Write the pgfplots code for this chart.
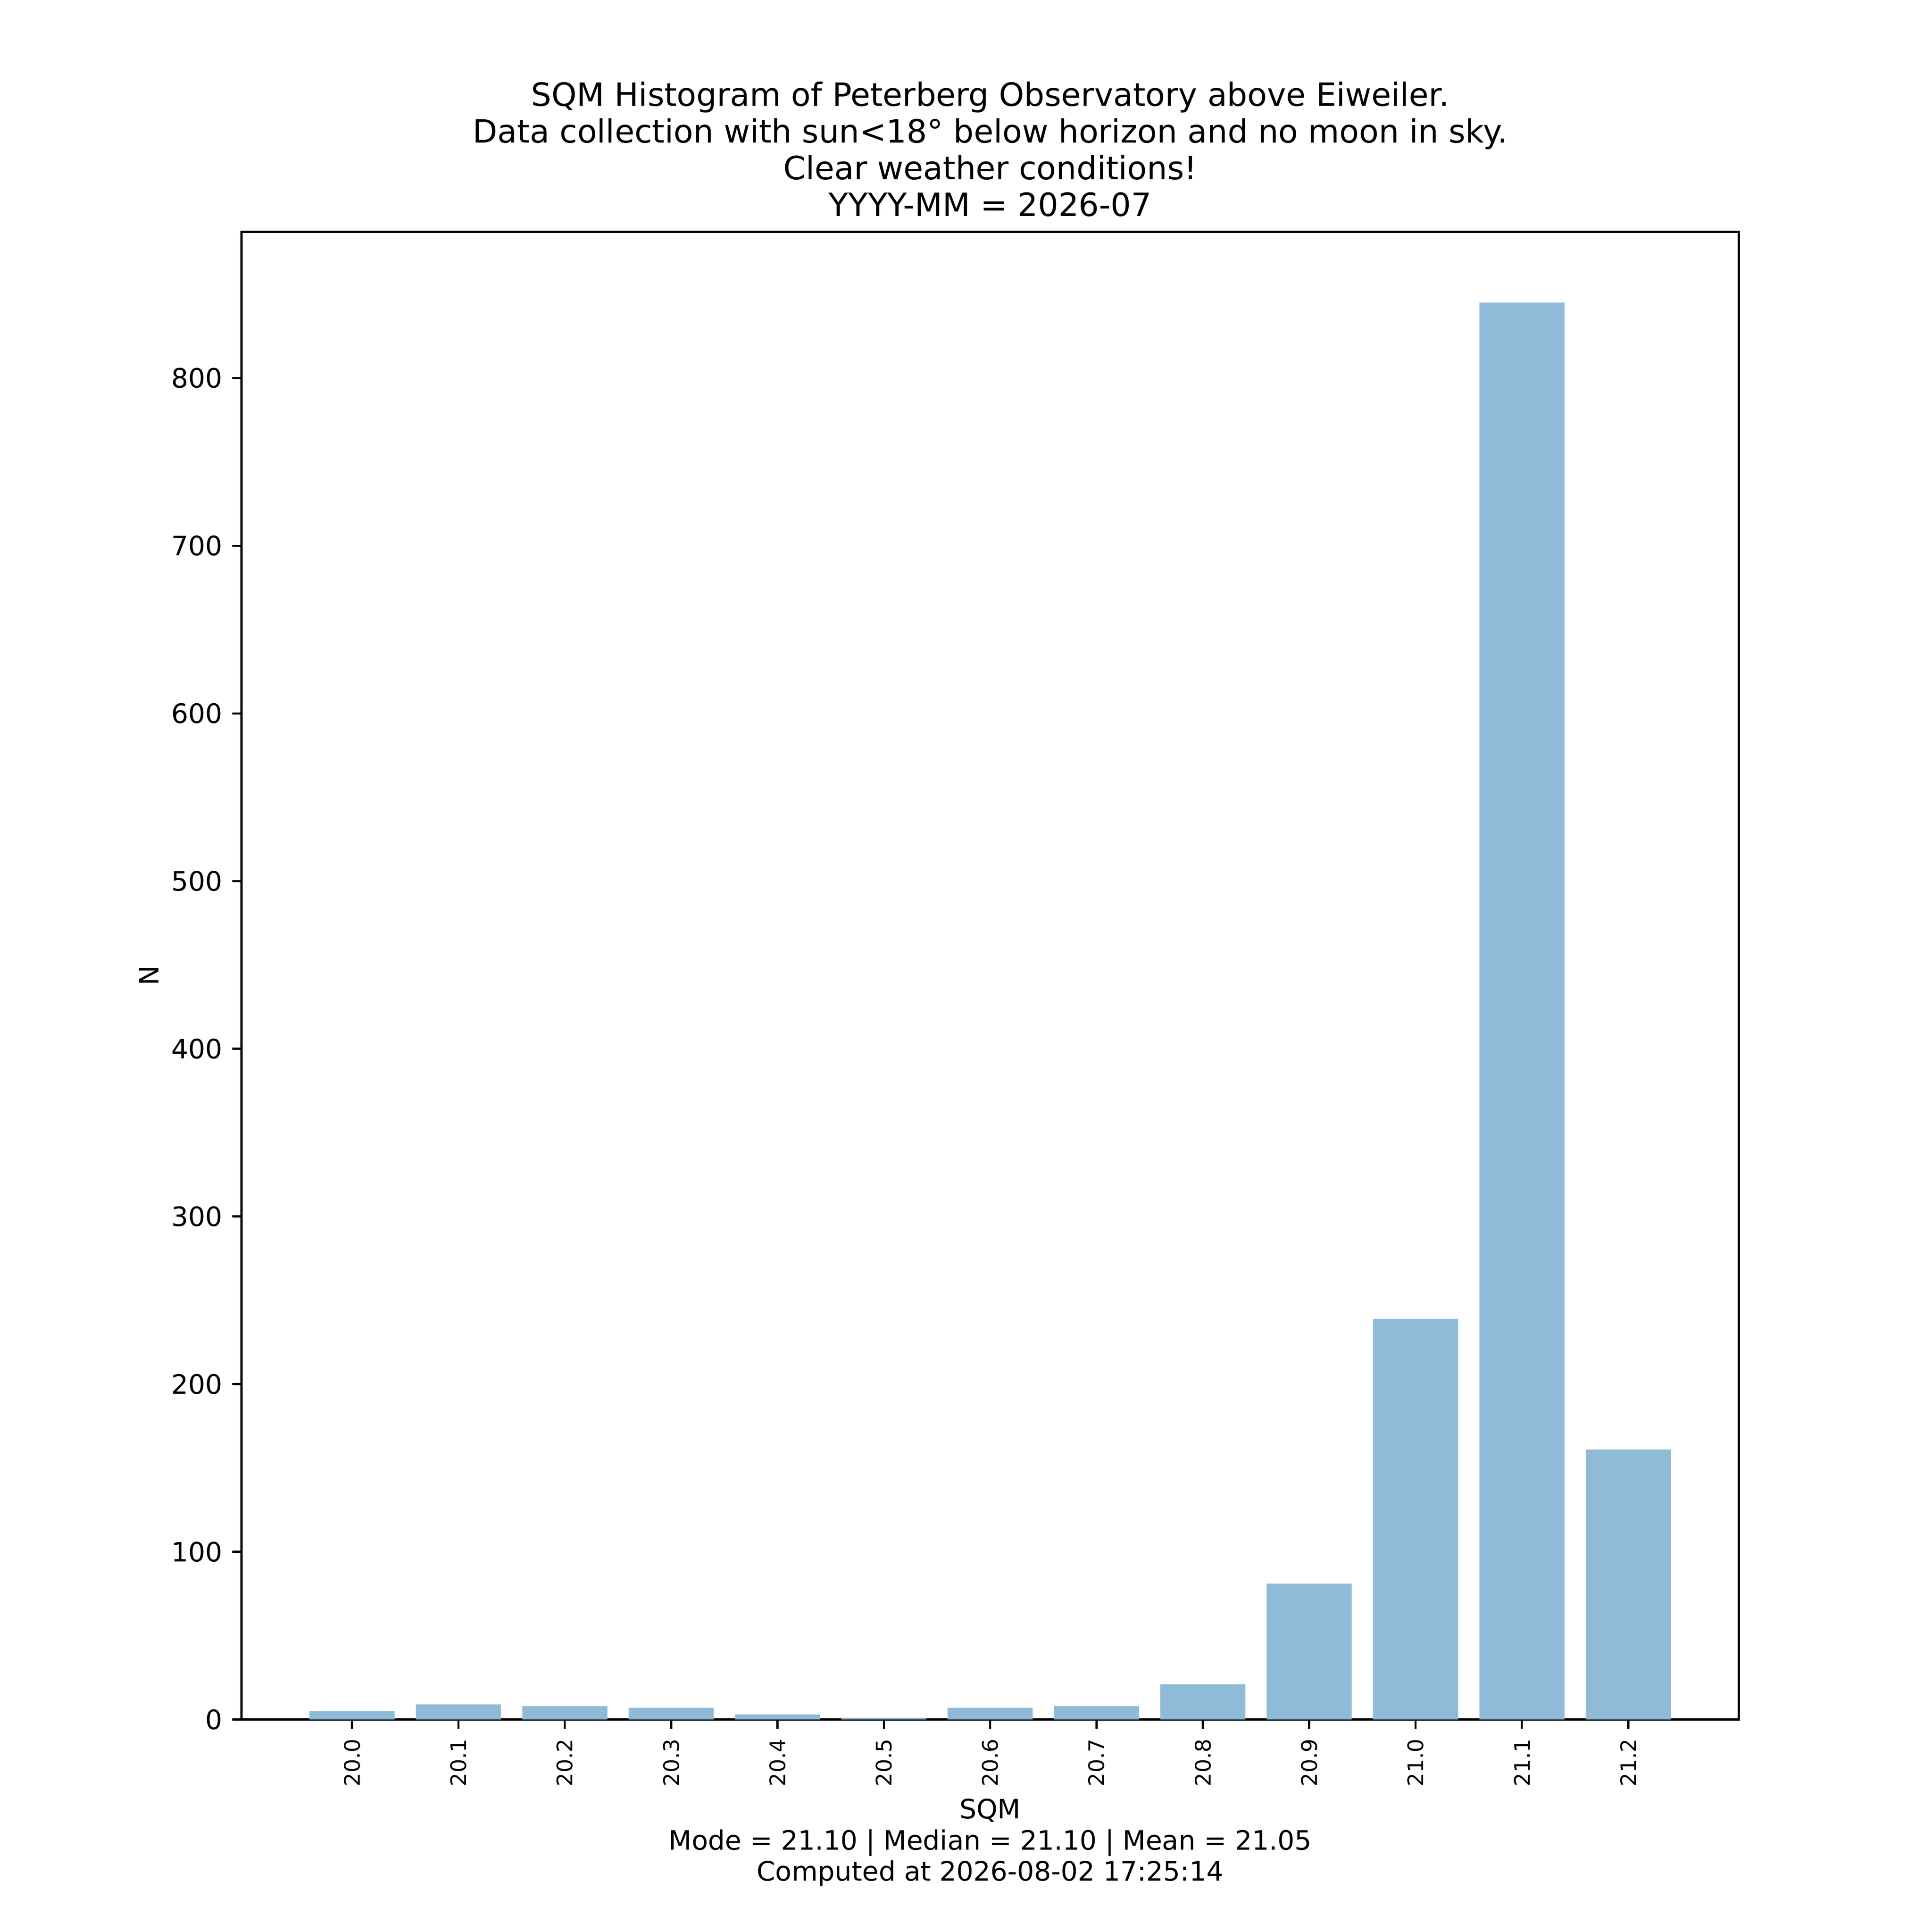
\documentclass[border=0pt]{standalone}
\usepackage{fontspec}
\setmainfont{DejaVu Sans}
\usepackage{pgfplots}
\pgfplotsset{compat=1.18}
\definecolor{barc}{RGB}{143,187,217}
\begin{document}
\begin{tikzpicture}
\useasboundingbox (-90.34pt,-79.5pt) rectangle (632.36pt,643.2pt);
\begin{axis}[
  at={(0pt,0pt)}, anchor=south west,
  scale only axis,
  width=560.1pt, height=556.5pt,
  xmin=-1.04, xmax=13.04, ymin=0, ymax=887.25,
  axis line style={line width=0.8pt},
  tick align=outside, major tick length=3.5pt,
  every tick/.style={black, line width=0.8pt},
  xtick pos=bottom, ytick pos=left,
  xtick={0,1,...,12},
  xticklabels={20.0,20.1,20.2,20.3,20.4,20.5,20.6,20.7,20.8,20.9,21.0,21.1,21.2},
  ytick={0,100,200,300,400,500,600,700,800},
  /pgf/number format/assume math mode=true,
  xticklabel style={font=\fontsize{8}{9.6}\selectfont, rotate=90, anchor=east, inner sep=0pt, xshift=-3.5pt},
  yticklabel style={font=\fontsize{10}{12}\selectfont, inner sep=0pt, xshift=-3.5pt},
  title={SQM Histogram of Peterberg Observatory above Eiweiler.\\Data collection with sun<18° below horizon and no moon in sky.\\Clear weather conditions!\\YYYY-MM = 2026-07},
  title style={at={([yshift=-0.5pt]axis description cs:0.5,1)}, anchor=south, yshift=0pt, align=center, inner sep=0pt, font=\fontsize{12}{13.7}\selectfont},
  xlabel={SQM\\Mode = 21.10 | Median = 21.10 | Mean = 21.05\\Computed at 2026-08-02 17:25:14},
  xlabel style={at={([yshift=-29.5pt]axis description cs:0.5,0)}, anchor=north, align=center, inner sep=0pt, font=\fontsize{10}{11.6}\selectfont},
  ylabel={N},
  ylabel style={at={([xshift=-34.7pt]axis description cs:0,0.5)}, anchor=center, rotate=0, inner sep=0pt, font=\fontsize{10}{12}\selectfont},
]
\addplot[ybar, bar width=0.8, bar shift=0pt, fill=barc, draw=none] coordinates {
(0,5) (1,9) (2,8) (3,7) (4,3) (5,1) (6,7) (7,8) (8,21) (9,81) (10,239) (11,845) (12,161)
};
\end{axis}
\end{tikzpicture}
\end{document}
